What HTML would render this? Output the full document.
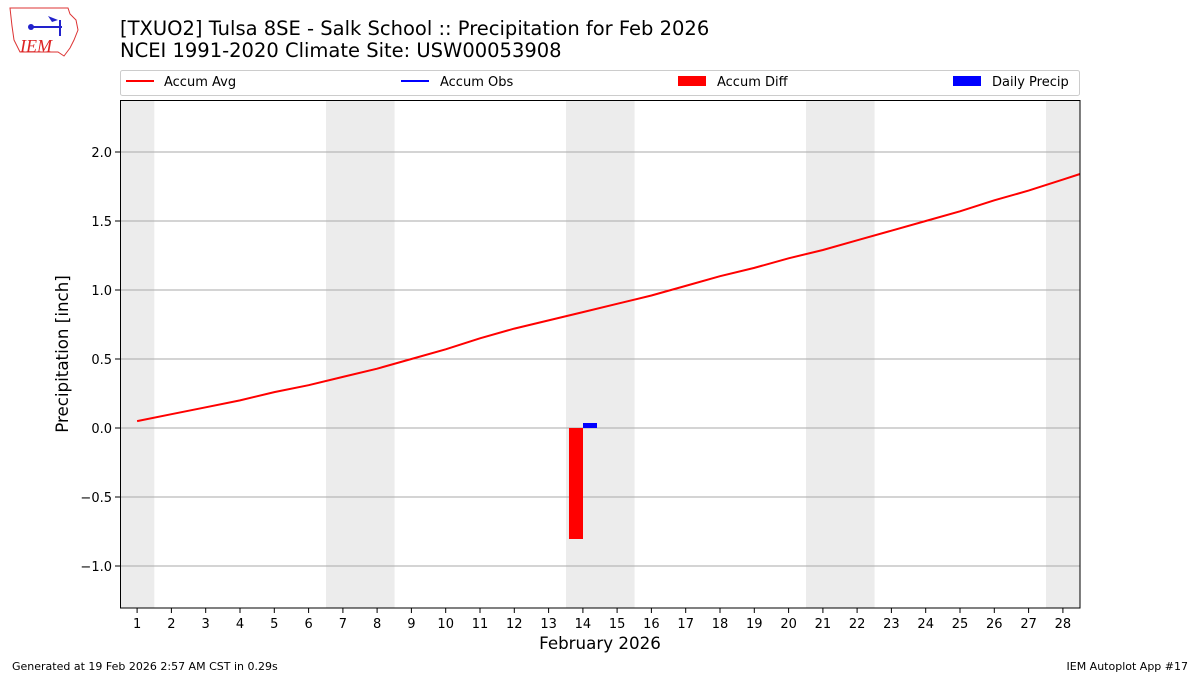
<!DOCTYPE html>
<html><head><meta charset="utf-8"><style>body{margin:0;background:#fff}svg{display:block}text{font-family:"DejaVu Sans","Liberation Sans",sans-serif;fill:#000}</style></head><body>
<svg width="1200" height="675" viewBox="0 0 1200 675" xmlns="http://www.w3.org/2000/svg">
<rect width="1200" height="675" fill="#fff"/>
<g>
<path d="M10,8 L68,8 L70,14 L76,20 L78,30 L74,40 L70,48 L64,56 L58,52 L20,52 L14,40 L12,26 Z" fill="none" stroke="#d33" stroke-width="1"/>
<line x1="30" y1="27" x2="62" y2="27" stroke="#22c" stroke-width="2"/>
<circle cx="31" cy="27" r="3" fill="#22c"/>
<path d="M48,16 L58,20 L52,22 Z" fill="#22c"/>
<line x1="60" y1="20" x2="60" y2="36" stroke="#22c" stroke-width="2"/>
<text x="20" y="52" font-style="italic" font-size="18" style="fill:#d22;font-family:'Liberation Serif',serif">IEM</text>
</g>
<text x="120" y="35" font-size="19.5">[TXUO2] Tulsa 8SE - Salk School :: Precipitation for Feb 2026</text>
<text x="120" y="57" font-size="19.5">NCEI 1991-2020 Climate Site: USW00053908</text>
<rect x="120.5" y="70.5" width="959" height="25" rx="2" fill="#fff" stroke="#ccc"/>
<line x1="126" y1="81" x2="154" y2="81" stroke="red" stroke-width="2"/>
<text x="164" y="86" font-size="13">Accum Avg</text>
<line x1="401" y1="81" x2="429" y2="81" stroke="blue" stroke-width="2"/>
<text x="440" y="86" font-size="13">Accum Obs</text>
<rect x="678" y="76" width="28" height="10" fill="red"/>
<text x="717" y="86" font-size="13">Accum Diff</text>
<rect x="953" y="76" width="28" height="10" fill="blue"/>
<text x="992" y="86" font-size="13">Daily Precip</text>
<g fill="#ececec">
<rect x="120" y="100" width="34.3" height="508"/>
<rect x="326" y="100" width="68.6" height="508"/>
<rect x="566" y="100" width="68.6" height="508"/>
<rect x="806" y="100" width="68.6" height="508"/>
<rect x="1046" y="100" width="34" height="508"/>
</g>
<g stroke="#aaa" stroke-width="0.9">
<line x1="120" y1="152" x2="1080" y2="152"/><line x1="120" y1="221" x2="1080" y2="221"/>
<line x1="120" y1="290" x2="1080" y2="290"/><line x1="120" y1="359" x2="1080" y2="359"/>
<line x1="120" y1="428" x2="1080" y2="428"/><line x1="120" y1="497" x2="1080" y2="497"/>
<line x1="120" y1="566" x2="1080" y2="566"/>
</g>
<rect x="569" y="428" width="14" height="111" fill="red"/>
<rect x="583" y="423" width="14" height="5" fill="blue"/>
<polyline fill="none" stroke="red" stroke-width="2" points="137.1,421.1 171.4,414.2 205.7,407.3 240,400.4 274.3,392.1 308.6,385.2 342.9,376.9 377.1,368.7 411.4,359 445.7,349.3 480,338.3 514.3,328.6 548.6,320.4 582.9,312.1 617.1,303.8 651.4,295.5 685.7,285.9 720,276.2 754.3,267.9 788.6,258.3 822.9,250 857.1,240.3 891.4,230.7 925.7,221 960,211.3 994.3,200.3 1028.6,190.6 1062.9,179.6 1080,174"/>
<rect x="120.5" y="100.5" width="959.5" height="507.5" fill="none" stroke="#000" stroke-width="1"/>
<g stroke="#000"><line x1="115" y1="152" x2="120" y2="152"/><line x1="115" y1="221" x2="120" y2="221"/><line x1="115" y1="290" x2="120" y2="290"/><line x1="115" y1="359" x2="120" y2="359"/><line x1="115" y1="428" x2="120" y2="428"/><line x1="115" y1="497" x2="120" y2="497"/><line x1="115" y1="566" x2="120" y2="566"/></g>
<g font-size="13" text-anchor="end">
<text x="112" y="157">2.0</text><text x="112" y="226">1.5</text><text x="112" y="295">1.0</text><text x="112" y="364">0.5</text><text x="112" y="433">0.0</text><text x="112" y="502">−0.5</text><text x="112" y="571">−1.0</text>
</g>
<text transform="translate(68,354) rotate(-90)" font-size="16.7" text-anchor="middle">Precipitation [inch]</text>
<g font-size="13" text-anchor="middle">
<text x="137.1" y="628">1</text><text x="171.4" y="628">2</text><text x="205.7" y="628">3</text><text x="240" y="628">4</text><text x="274.3" y="628">5</text><text x="308.6" y="628">6</text><text x="342.9" y="628">7</text><text x="377.1" y="628">8</text><text x="411.4" y="628">9</text><text x="445.7" y="628">10</text><text x="480" y="628">11</text><text x="514.3" y="628">12</text><text x="548.6" y="628">13</text><text x="582.9" y="628">14</text><text x="617.1" y="628">15</text><text x="651.4" y="628">16</text><text x="685.7" y="628">17</text><text x="720" y="628">18</text><text x="754.3" y="628">19</text><text x="788.6" y="628">20</text><text x="822.9" y="628">21</text><text x="857.1" y="628">22</text><text x="891.4" y="628">23</text><text x="925.7" y="628">24</text><text x="960" y="628">25</text><text x="994.3" y="628">26</text><text x="1028.6" y="628">27</text><text x="1062.9" y="628">28</text>
</g>
<g stroke="#000">
<path d="M137.1,608v5M171.4,608v5M205.7,608v5M240,608v5M274.3,608v5M308.6,608v5M342.9,608v5M377.1,608v5M411.4,608v5M445.7,608v5M480,608v5M514.3,608v5M548.6,608v5M582.9,608v5M617.1,608v5M651.4,608v5M685.7,608v5M720,608v5M754.3,608v5M788.6,608v5M822.9,608v5M857.1,608v5M891.4,608v5M925.7,608v5M960,608v5M994.3,608v5M1028.6,608v5M1062.9,608v5"/>
</g>
<text x="600" y="649" font-size="16.7" text-anchor="middle">February 2026</text>
<text x="12" y="670" font-size="11">Generated at 19 Feb 2026 2:57 AM CST in 0.29s</text>
<text x="1188" y="670" font-size="11" text-anchor="end">IEM Autoplot App #17</text>
</svg>
</body></html>
